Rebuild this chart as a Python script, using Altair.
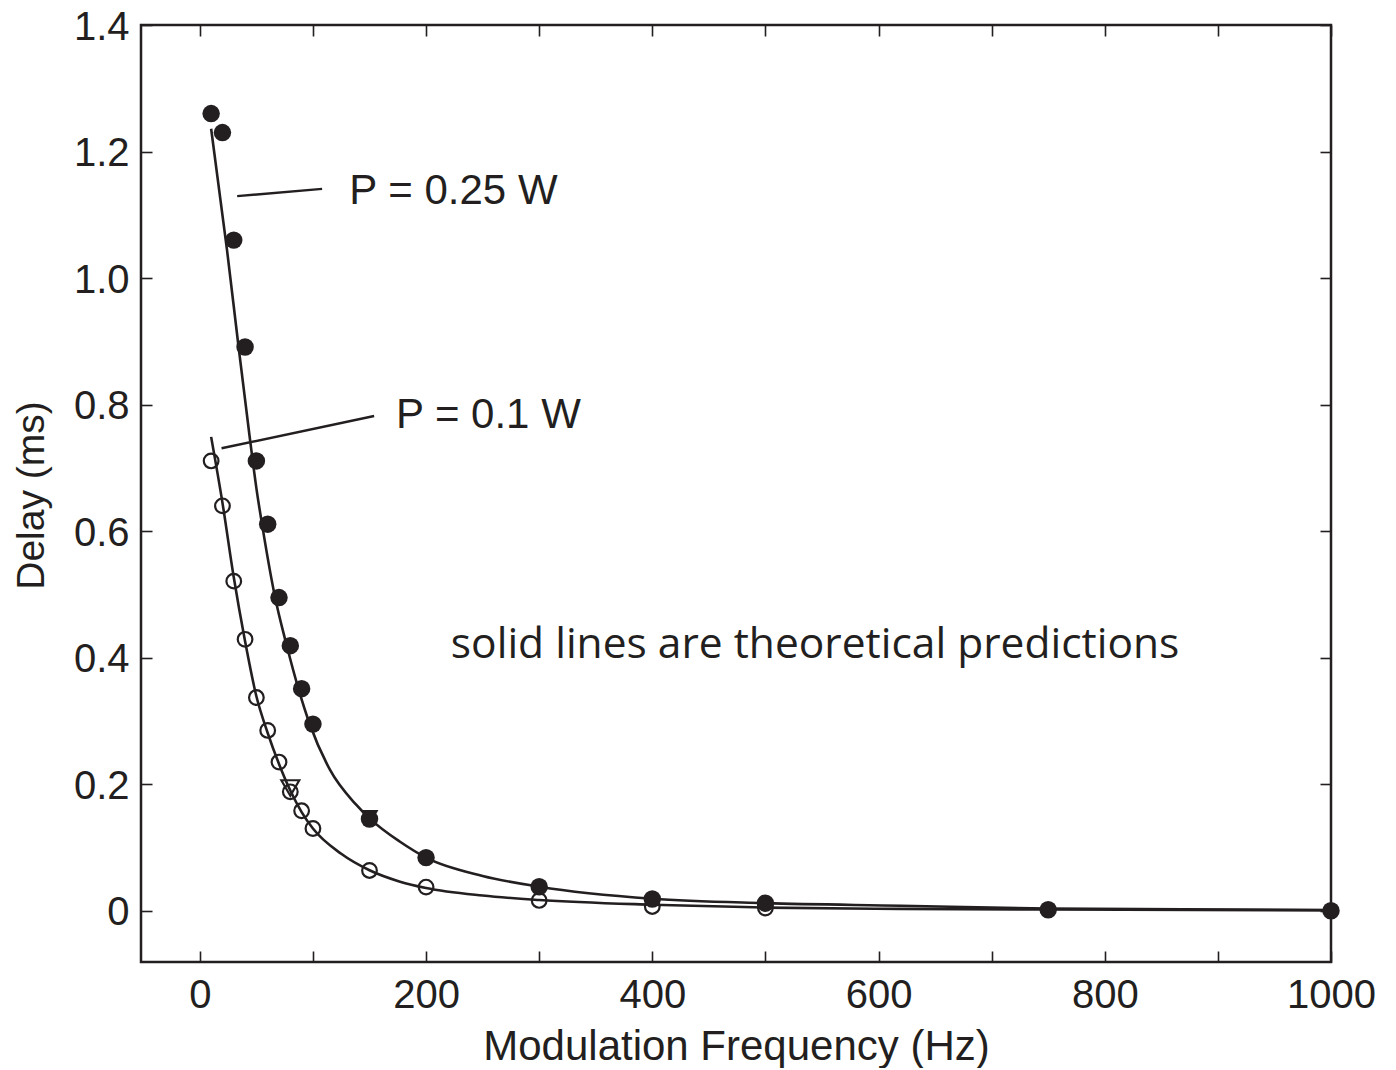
import altair as alt
import pandas as pd

INK = "#231f20"
SANS = "Liberation Sans, Arial, Helvetica, sans-serif"

# ---- measured data (P = 0.25 W, filled circles) ----
freq_hi = [10, 20, 30, 40, 50, 60, 70, 80, 90, 100, 150, 200, 300, 400, 500, 750, 1000]
delay_hi = [1.260, 1.230, 1.060, 0.891, 0.711, 0.611, 0.495, 0.419, 0.351, 0.295,
            0.145, 0.084, 0.038, 0.0185, 0.012, 0.0016, 0.0]

# ---- measured data (P = 0.1 W, open circles) ----
freq_lo = [10, 20, 30, 40, 50, 60, 70, 80, 90, 100, 150, 200, 300, 400, 500]
delay_lo = [0.711, 0.640, 0.521, 0.429, 0.337, 0.285, 0.235, 0.188, 0.158, 0.130,
            0.0637, 0.0374, 0.0163, 0.0068, 0.0043]

# ---- extra markers (triangles) ----
tri_open_x = [80]
tri_open_y = [0.194]
tri_fill_x = [150]
tri_fill_y = [0.147]

# ---- theoretical predictions (solid lines) ----
theory_hi_x = [10, 24, 34, 44, 50, 56, 66, 77, 87, 97, 115, 138, 150, 177, 200, 250,
               300, 400, 500, 620, 750, 1000]
theory_hi_y = [1.236, 1.045, 0.895, 0.750, 0.668, 0.600, 0.500, 0.418, 0.352, 0.296,
               0.223, 0.168, 0.146, 0.109, 0.084, 0.055, 0.038, 0.019, 0.012, 0.008,
               0.0035, 0.001]
theory_lo_x = [10, 20, 30, 40, 50, 60, 70, 80, 90, 100, 125, 150, 177, 200, 250, 300,
               400, 500, 620, 750, 1000]
theory_lo_y = [0.749, 0.645, 0.527, 0.426, 0.339, 0.281, 0.232, 0.190, 0.156, 0.130,
               0.090, 0.064, 0.046, 0.036, 0.024, 0.017, 0.0095, 0.005, 0.003, 0.002,
               0.0008]

# ---- annotations ----
label_text = ["P = 0.25 W", "P = 0.1 W"]
label_x = [132.2, 173.4]
label_y = [1.117, 0.7626]
leader_x1 = [33.0, 19.2]
leader_y1 = [1.1295, 0.731]
leader_x2 = [108.1, 154.1]
leader_y2 = [1.141, 0.782]
note_text = ["solid lines are theoretical predictions"]
note_x = [221.9]
note_y = [0.400]

x_ticks = list(range(0, 1001, 100))
y_ticks = [0, 0.2, 0.4, 0.6, 0.8, 1.0, 1.2, 1.4]

XDOM = [-52, 1000]
YDOM = [-0.081, 1.4]

df_hi = pd.DataFrame({"f": freq_hi, "d": delay_hi})
df_lo = pd.DataFrame({"f": freq_lo, "d": delay_lo})
df_to = pd.DataFrame({"f": tri_open_x, "d": tri_open_y})
df_tf = pd.DataFrame({"f": tri_fill_x, "d": tri_fill_y})
df_th = pd.DataFrame({"f": theory_hi_x, "d": theory_hi_y})
df_tl = pd.DataFrame({"f": theory_lo_x, "d": theory_lo_y})
df_lab = pd.DataFrame({"t": label_text, "f": label_x, "d": label_y})
df_lead = pd.DataFrame({"f": leader_x1, "d": leader_y1, "f2": leader_x2, "d2": leader_y2})
df_note = pd.DataFrame({"t": note_text, "f": note_x, "d": note_y})

xscale = alt.Scale(domain=XDOM, nice=False, zero=False)
yscale = alt.Scale(domain=YDOM, nice=False, zero=False)

x_axis = alt.Axis(
    values=x_ticks, orient="bottom", offset=-11, tickSize=11, tickWidth=1.6,
    tickColor=INK, domain=False, grid=False,
    labelExpr="datum.value % 200 == 0 ? format(datum.value, 'd') : ''",
    labelFont=SANS, labelFontSize=40, labelColor=INK, labelPadding=13,
    labelFlush=False, labelOverlap=False,
    title="Modulation Frequency (Hz)", titleFont=SANS, titleFontSize=42,
    titleFontWeight="normal", titleColor=INK, titleBaseline="alphabetic",
    titleX=595, titleY=108,
)
y_axis = alt.Axis(
    values=y_ticks, orient="left", offset=-11, tickSize=11, tickWidth=1.6,
    tickColor=INK, domain=False, grid=False,
    labelExpr="datum.value == 0 ? '0' : format(datum.value, '.1f')",
    labelFont=SANS, labelFontSize=40, labelColor=INK, labelPadding=12,
    labelOffset=2, labelFlush=False, labelOverlap=False,
    title="Delay (ms)", titleFont=SANS, titleFontSize=39,
    titleFontWeight="normal", titleColor=INK, titleBaseline="alphabetic",
    titleAngle=270, titleX=-109, titleY=470,
)

X = alt.X("f:Q", scale=xscale, axis=x_axis)
Y = alt.Y("d:Q", scale=yscale, axis=y_axis)
Xn = alt.X("f:Q", scale=xscale, axis=None)
Yn = alt.Y("d:Q", scale=yscale, axis=None)

line_hi = alt.Chart(df_th).mark_line(color=INK, strokeWidth=2.6, interpolate="monotone").encode(x=X, y=Y)
line_lo = alt.Chart(df_tl).mark_line(color=INK, strokeWidth=2.6, interpolate="monotone").encode(x=Xn, y=Yn)

open_pts = alt.Chart(df_lo).mark_point(shape="circle", size=215, filled=False,
                                       stroke=INK, strokeWidth=2.2, opacity=1).encode(x=Xn, y=Yn)
tri_open = alt.Chart(df_to).mark_point(shape="triangle-down", size=320, filled=False,
                                       stroke=INK, strokeWidth=2.2, opacity=1).encode(x=Xn, y=Yn)
tri_fill = alt.Chart(df_tf).mark_point(shape="triangle-down", size=320, filled=True,
                                       color=INK, opacity=1).encode(x=Xn, y=Yn)
fill_pts = alt.Chart(df_hi).mark_point(shape="circle", size=305, filled=True,
                                       color=INK, opacity=1).encode(x=Xn, y=Yn)

leaders = alt.Chart(df_lead).mark_rule(color=INK, strokeWidth=2.4).encode(
    x=Xn, y=Yn, x2="f2:Q", y2="d2:Q")
labels = alt.Chart(df_lab).mark_text(align="left", baseline="alphabetic", font=SANS,
                                     fontSize=42, color=INK).encode(x=Xn, y=Yn, text="t:N")
note = alt.Chart(df_note).mark_text(align="left", baseline="alphabetic", font="Open Sans",
                                    fontSize=42.5, color=INK).encode(x=Xn, y=Yn, text="t:N")

# mirrored ticks (top and right), no labels
mirror = alt.Chart(df_hi).mark_point(opacity=0).encode(
    x=alt.X("f:Q", scale=xscale, axis=alt.Axis(
        values=x_ticks, orient="top", offset=-11, tickSize=11, tickWidth=1.6,
        tickColor=INK, domain=False, grid=False, labels=False, title=None)),
    y=alt.Y("d:Q", scale=yscale, axis=alt.Axis(
        values=y_ticks, orient="right", offset=-11, tickSize=11, tickWidth=1.6,
        tickColor=INK, domain=False, grid=False, labels=False, title=None)),
)

chart = alt.layer(
    line_hi, line_lo, open_pts, tri_open, tri_fill, fill_pts, leaders, labels, note, mirror
).resolve_axis(x="independent", y="independent").properties(
    width=1190, height=937,
    autosize=alt.AutoSizeParams(type="none"),
    padding={"left": 133, "top": 17, "right": 57, "bottom": 106},
    background="white",
).configure_view(stroke=INK, strokeWidth=2.5)

chart.save("out.html", embed_options={"renderer": "svg", "actions": False})
